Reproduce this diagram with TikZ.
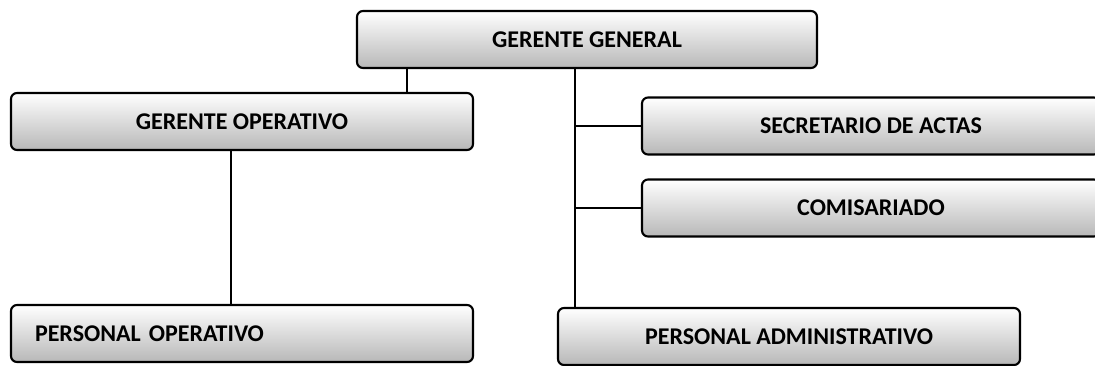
\documentclass[tikz,border=0pt]{standalone}
\usepackage{fontspec}
\setmainfont{Carlito}
\usetikzlibrary{positioning}

\begin{document}
\begin{tikzpicture}[x=1pt, y=-1pt,
	caja/.style={draw, line width=2.1pt, rounded corners=6pt, top color=white, middle color=white!95!black, bottom color=black!28, minimum height=57pt, inner sep=0pt, font=\fontsize{24}{28}\selectfont\bfseries},
	linea/.style={line width=2pt}]
	\useasboundingbox (0,0) rectangle (1095,365);

	% Cajas
	\node [caja, minimum width=460pt] (gg) at (587,39.5) {GERENTE GENERAL};
	\node [caja, minimum width=462pt] (go) at (242,121.5) {GERENTE OPERATIVO};
	\node [caja, minimum width=458pt] (sa) at (871,126) {SECRETARIO DE ACTAS};
	\node [caja, minimum width=458pt] (com) at (871,208) {COMISARIADO};
	\node [caja, text width=414pt, inner xsep=24pt, align=left] (po) at (242,333.5) {PERSONAL OPERATIVO};
	\node [caja, minimum width=462pt] (pa) at (789,336.5) {PERSONAL ADMINISTRATIVO};

	% Lineas
	\coordinate (tronco) at ([xshift=-12pt]gg.south);
	\coordinate (rama) at ([xshift=-180pt]gg.south);
	\coordinate (baja) at ([xshift=-11pt]go.south);
	\draw [linea] (rama) -- (rama |- go.north);
	\draw [linea] (tronco) -- (tronco |- pa.north);
	\draw [linea] (tronco |- sa.west) -- (sa.west);
	\draw [linea] (tronco |- com.west) -- (com.west);
	\draw [linea] (baja) -- (baja |- po.north);
\end{tikzpicture}
\end{document}
